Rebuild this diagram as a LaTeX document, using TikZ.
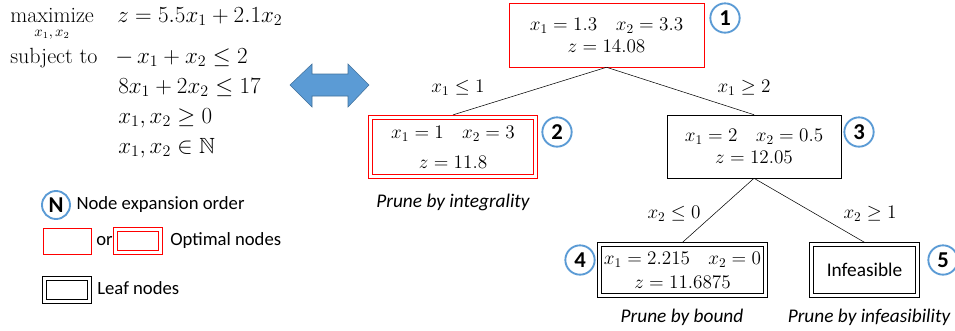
\documentclass[tikz,border=0pt]{standalone}
\usepackage{amsmath,amssymb}
\usepackage{fontspec}
\newfontfamily\calibri{Carlito}
\usetikzlibrary{positioning}
\definecolor{orderblue}{RGB}{91,155,213}
\definecolor{arrowline}{RGB}{65,113,156}
\tikzset{math/.style = {execute at begin node=$, execute at end node=$},
  lp/.style = {anchor=base west, inner sep=0pt, font=\fontsize{16.5}{20}\selectfont},
  box/.style = {draw, thin, align=center, inner sep=0pt, font=\fontsize{14}{16.5}\selectfont},
  optbox/.style = {box, draw=red},
  dbox/.style = {box, double, double distance=2.6pt, outer sep=1.8pt},
  optdbox/.style = {dbox, draw=red},
  order/.style = {circle, draw=orderblue, line width=1.4pt, fill=white, minimum size=22pt,
    inner sep=0pt, font=\calibri\bfseries\fontsize{17}{17}\selectfont},
  cut/.style = {math, font=\fontsize{14}{16}\selectfont},
  prune/.style = {font=\calibri\itshape\fontsize{14.5}{17}\selectfont},
  legend/.style = {anchor=west, inner sep=0pt, font=\calibri\fontsize{14}{17}\selectfont}}

\begin{document}
\begin{tikzpicture}[x=0.75pt, y=-0.75pt, thin]
  \useasboundingbox (0,0) rectangle (955,330);
  % the integer program
  \node [lp] (max) at (10,22) {maximize};
  \node [font=\fontsize{10.5}{12}\selectfont, inner sep=0pt] (maxvar) at (52,35) {$x_1,x_2$};
  \node [lp] (obj) at (117,22) {$z = 5.5x_1 + 2.1x_2$};
  \node [lp] (st) at (10,63) {subject to};
  \node [lp] (c1) at (115,63) {$-\,x_1 + x_2 \le 2$};
  \node [lp] (c2) at (118,93) {$8x_1 + 2x_2 \le 17$};
  \node [lp] (c3) at (118,123) {$x_1, x_2 \ge 0$};
  \node [lp] (c4) at (118,153) {$x_1, x_2 \in \mathbb{N}$};

  \draw [fill=orderblue, draw=arrowline] (290,85) -- (312,64) -- (312,74) -- (348,74) -- (348,64)
    -- (369,85) -- (348,107) -- (348,96) -- (312,96) -- (312,107) -- cycle;

  % branch and bound tree
  \node [optbox, minimum width=146.25pt, minimum height=48pt] (n1) at (606.5,35)
    {$x_1 = 1.3\quad x_2 = 3.3$\\$z = 14.08$};
  \node [optdbox, minimum width=123.75pt, minimum height=44.6pt] (n2) at (453,147)
    {$x_1 = 1\ \ \ x_2 = 3$\\[6pt]$z = 11.8$};
  \node [box, minimum width=130.5pt, minimum height=47.25pt] (n3) at (754,146.5)
    {$x_1 = 2\ \ \ x_2 = 0.5$\\$z = 12.05$};
  \node [dbox, minimum width=124.5pt, minimum height=37.9pt] (n4) at (682.5,270)
    {$x_1 = 2.215\ \ \ x_2 = 0$\\[1.5pt]$z = 11.6875$};
  \node [dbox, minimum width=79.5pt, minimum height=37.9pt, font=\calibri\fontsize{14.5}{17}\selectfont]
    (n5) at (864.5,270) {Infeasible};

  \draw (n1.south) -- (n2.north);
  \draw (n1.south) -- (n3.north);
  \draw (n3.south) -- (n4.north);
  \draw (n3.south) -- (n5.north);

  \node [cut] (b1) at (458,88) {x_1 \le 1};
  \node [cut] (b2) at (744,88) {x_1 \ge 2};
  \node [cut] (b3) at (674,214) {x_2 \le 0};
  \node [cut] (b4) at (870,214) {x_2 \ge 1};

  \node [order] (o1) at (725,18) {1};
  \node [order] (o2) at (557,132) {2};
  \node [order] (o3) at (859,132) {3};
  \node [order] (o4) at (580,260) {4};
  \node [order] (o5) at (943,260) {5};

  \node [prune] (p2) at (453,202) {Prune by integrality};
  \node [prune] (p4) at (682,317) {Prune by bound};
  \node [prune] (p5) at (869,317) {Prune by infeasibility};

  % legend
  \node [order, minimum size=21pt] (oN) at (56,205) {N};
  \node [legend, right=4pt of oN] (tN) {Node expansion order};
  \node [optbox, minimum width=36pt, minimum height=19.5pt] (kopt) at (67,241) {};
  \node [legend] (kor) at (96,241) {or};
  \node [optdbox, minimum width=33.4pt, minimum height=17.6pt, outer sep=0pt] (kdopt) at (138,241) {};
  \node [legend] (topt) at (170,241) {Optimal nodes};
  \node [dbox, minimum width=33.75pt, minimum height=17.25pt, outer sep=0pt] (kleaf) at (67,290) {};
  \node [legend] (tleaf) at (97,288) {Leaf nodes};
\end{tikzpicture}
\end{document}
